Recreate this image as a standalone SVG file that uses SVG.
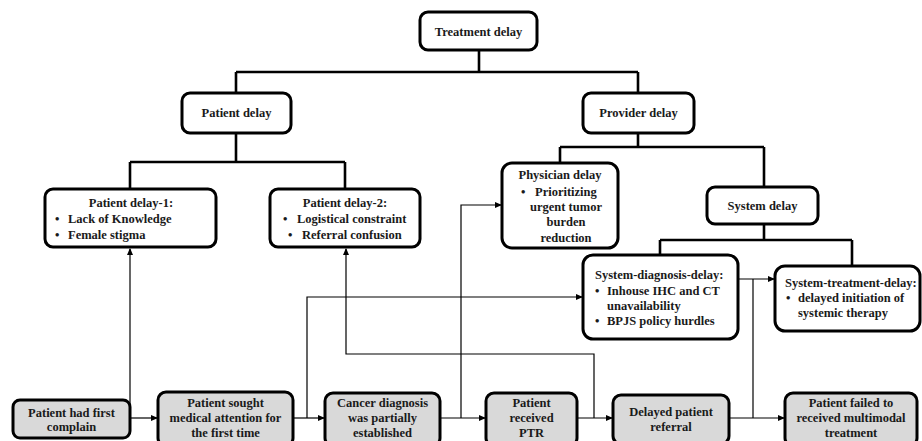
<svg xmlns="http://www.w3.org/2000/svg" width="922" height="441" viewBox="0 0 922 441">
<defs>
<marker id="ah" markerWidth="7" markerHeight="6" refX="6" refY="3" orient="auto" markerUnits="userSpaceOnUse">
<path d="M0,0 L7,3 L0,6 Z" fill="#000"/>
</marker>
<style>
.box{fill:#fff;stroke:#000;stroke-width:3}
.gbox{fill:#d9d9d9;stroke:#000;stroke-width:3}
.tree{fill:none;stroke:#000;stroke-width:2.6}
.thin{fill:none;stroke:#000;stroke-width:1.2}
.arr{marker-end:url(#ah)}
text{font-family:"Liberation Serif","Times New Roman",serif;font-weight:bold;font-size:12.5px;fill:#1a1a1a}
.c{text-anchor:middle}
</style>
</defs>
<rect width="922" height="441" fill="#fff"/>
<g id="connectors">
<path class="tree" d="M479,50V72M236,72H638M236,72V93M638,72V93"/>
<path class="tree" d="M236,133V162M130,162H345M130,162V189M345,162V189"/>
<path class="tree" d="M638,133V147M560,147H764M560,147V163M764,147V187"/>
<path class="tree" d="M764,224V240M660,240H852M660,240V255M852,240V266"/>
<path class="thin arr" d="M130,418V249"/>
<path class="thin arr" d="M130,418H157"/>
<path class="thin arr" d="M293,418H324"/>
<path class="thin arr" d="M307,418V297H582"/>
<path class="thin arr" d="M440,418H485"/>
<path class="thin arr" d="M461,418V205H501"/>
<path class="thin arr" d="M577,418H612"/>
<path class="thin arr" d="M594,418V354H346V249"/>
<path class="thin arr" d="M729,418H784"/>
<path class="thin" d="M753,418V279"/>
<path class="thin arr" d="M736,279H774"/>
</g>
<g id="treatment-delay"><rect class="box" x="420" y="12" width="117" height="38" rx="8"/><text class="c" x="478.5" y="35.5">Treatment delay</text></g>
<g id="patient-delay"><rect class="box" x="182" y="93" width="109" height="40" rx="8"/><text class="c" x="236.5" y="117">Patient delay</text></g>
<g id="provider-delay"><rect class="box" x="583" y="93" width="111" height="40" rx="8"/><text class="c" x="638.5" y="117">Provider delay</text></g>
<g id="patient-delay-1"><rect class="box" x="45" y="189" width="171" height="58" rx="8"/>
<text class="c" x="131" y="207">Patient delay-1:</text>
<text x="55" y="223">•</text><text x="68" y="223">Lack of Knowledge</text>
<text x="55" y="238.5">•</text><text x="68" y="238.5">Female stigma</text></g>
<g id="patient-delay-2"><rect class="box" x="270" y="189" width="150" height="58" rx="8"/>
<text class="c" x="345" y="207">Patient delay-2:</text>
<text x="283" y="223">•</text><text x="297" y="223">Logistical constraint</text>
<text x="288" y="238.5">•</text><text x="302" y="238.5">Referral confusion</text></g>
<g id="physician-delay"><rect class="box" x="502" y="163" width="116" height="85" rx="10"/>
<text class="c" x="560" y="179">Physician delay</text>
<text x="521" y="196">•</text><text x="535" y="196">Prioritizing</text>
<text class="c" x="566" y="211">urgent tumor</text>
<text class="c" x="566" y="226">burden</text>
<text class="c" x="566" y="241.5">reduction</text></g>
<g id="system-delay"><rect class="box" x="707" y="187" width="111" height="37" rx="8"/><text class="c" x="762.5" y="209.5">System delay</text></g>
<g id="system-diagnosis-delay"><rect class="box" x="583" y="255" width="155" height="84" rx="10"/>
<text x="595" y="279">System-diagnosis-delay:</text>
<text x="595" y="295">•</text><text x="607" y="295">Inhouse IHC and CT</text>
<text x="607" y="310">unavailability</text>
<text x="595" y="325">•</text><text x="607" y="325">BPJS policy hurdles</text></g>
<g id="system-treatment-delay"><rect class="box" x="775" y="266" width="145" height="65" rx="10"/>
<text x="785" y="287">System-treatment-delay:</text>
<text x="786" y="302">•</text><text x="798" y="302">delayed initiation of</text>
<text x="798" y="317">systemic therapy</text></g>
<g id="first-complain"><rect class="gbox" x="13" y="400" width="117" height="38" rx="7"/>
<text class="c" x="71.5" y="417">Patient had first</text><text class="c" x="71.5" y="431">complain</text></g>
<g id="sought-attention"><rect class="gbox" x="158" y="392" width="135" height="54" rx="8"/>
<text class="c" x="225.5" y="407">Patient sought</text><text class="c" x="225.5" y="422">medical attention for</text><text class="c" x="225.5" y="437">the first time</text></g>
<g id="cancer-diagnosis"><rect class="gbox" x="325" y="393" width="115" height="53" rx="8"/>
<text class="c" x="382.5" y="407">Cancer diagnosis</text><text class="c" x="382.5" y="422">was partially</text><text class="c" x="382.5" y="437">established</text></g>
<g id="received-ptr"><rect class="gbox" x="486" y="393" width="91" height="53" rx="8"/>
<text class="c" x="531.5" y="407">Patient</text><text class="c" x="531.5" y="422">received</text><text class="c" x="531.5" y="437">PTR</text></g>
<g id="delayed-referral"><rect class="gbox" x="613" y="395" width="116" height="49" rx="8"/>
<text class="c" x="671" y="416">Delayed patient</text><text class="c" x="671" y="431">referral</text></g>
<g id="failed-multimodal"><rect class="gbox" x="785" y="393" width="132" height="53" rx="8"/>
<text class="c" x="851" y="407">Patient failed to</text><text class="c" x="851" y="422">received multimodal</text><text class="c" x="851" y="437">treatment</text></g>
</svg>
